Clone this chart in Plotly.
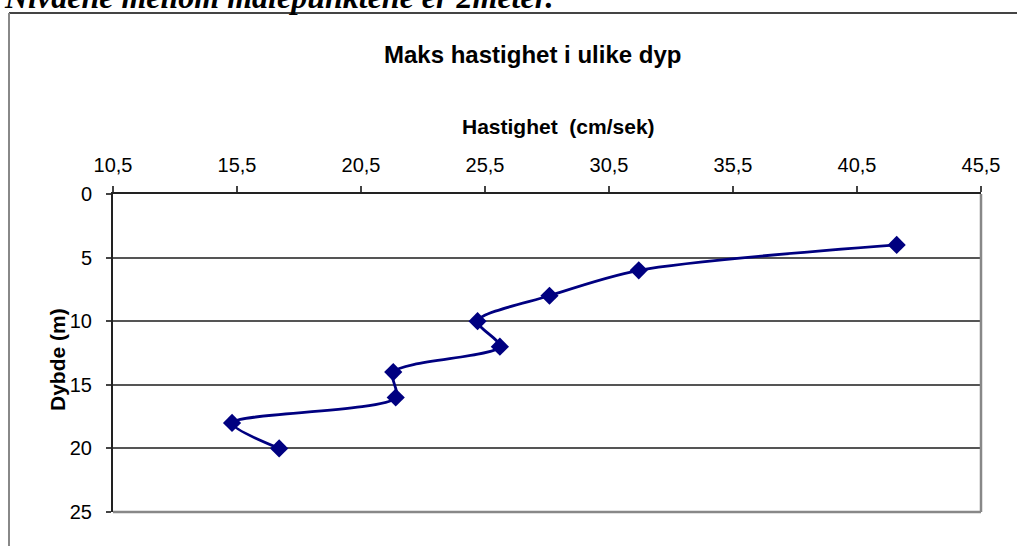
import plotly.graph_objects as go

# data
dybde = [4, 6, 8, 10, 12, 14, 16, 18, 20]
hastighet = [42.1, 31.7, 28.1, 25.2, 26.1, 21.8, 21.9, 15.3, 17.2]
x_ticks = [10.5, 15.5, 20.5, 25.5, 30.5, 35.5, 40.5, 45.5]
y_ticks = [0, 5, 10, 15, 20, 25]

tittel = "Maks hastighet i ulike dyp"
x_tittel = "Hastighet  (cm/sek)"
y_tittel = "Dybde (m)"
topptekst = "Nivåene mellom målepunktene er 2meter."

W, H = 1017, 546
L, R, T, B = 113, 36, 194, 34
PW, PH = W - L - R, H - T - B


def px(x):
    return (x - L) / PW


def py(y):
    return 1 - (y - T) / PH


fig = go.Figure()
fig.add_trace(go.Scatter(
    x=hastighet, y=dybde,
    mode="lines+markers",
    line=dict(color="#000080", width=2.8, shape="spline", smoothing=0.8),
    marker=dict(symbol="diamond", size=14, color="#000080"),
    showlegend=False,
))

sans = "Liberation Sans, Arial, sans-serif"

fig.update_layout(
    width=W, height=H,
    margin=dict(l=L, r=R, t=T, b=B),
    paper_bgcolor="white", plot_bgcolor="white",
    separators=",.",
    font=dict(family=sans, color="black", size=20),
    xaxis=dict(
        side="top", range=[x_ticks[0], x_ticks[-1]],
        tickvals=x_ticks, tickformat=".1f",
        showgrid=False, zeroline=False,
        showline=True, linecolor="#222", linewidth=2,
        ticks="outside", ticklen=6, tickwidth=1.5, tickcolor="#444",
        ticklabelstandoff=6,
    ),
    yaxis=dict(
        range=[y_ticks[-1], y_ticks[0]], tickvals=y_ticks,
        showgrid=True, gridcolor="#555", gridwidth=1.5,
        zeroline=False,
        showline=True, linecolor="#222", linewidth=2,
        ticks="outside", ticklen=5, tickwidth=1.5, tickcolor="#444",
        ticklabelstandoff=10,
    ),
    shapes=[
        # plot area border right/bottom
        dict(type="line", xref="paper", yref="paper", x0=1, x1=1, y0=0, y1=1,
             line=dict(color="#888", width=2.5)),
        dict(type="line", xref="paper", yref="paper", x0=0, x1=1, y0=0, y1=0,
             line=dict(color="#888", width=2.5)),
        # outer chart frame
        dict(type="line", xref="paper", yref="paper", x0=px(9), x1=px(1030),
             y0=py(13), y1=py(13), line=dict(color="#444", width=2)),
        dict(type="line", xref="paper", yref="paper", x0=px(9), x1=px(9),
             y0=py(13), y1=py(560), line=dict(color="#888", width=2)),
    ],
    annotations=[
        dict(text=f"<b>{tittel}</b>", xref="paper", yref="paper",
             x=px(532), y=py(54), xanchor="center", yanchor="middle",
             showarrow=False, font=dict(size=24)),
        dict(text=f"<b>{x_tittel}</b>", xref="paper", yref="paper",
             x=px(558), y=py(127), xanchor="center", yanchor="middle",
             showarrow=False, font=dict(size=21)),
        dict(text=f"<b>{y_tittel}</b>", xref="paper", yref="paper",
             x=px(57), y=py(360), xanchor="center", yanchor="middle",
             showarrow=False, textangle=-90, font=dict(size=21)),
        dict(text=f"<b><i>{topptekst}</i></b>", xref="paper", yref="paper",
             x=px(2), y=py(17), xanchor="left", yanchor="bottom",
             showarrow=False,
             font=dict(size=32, family="Liberation Serif, Times New Roman, serif")),
    ],
)

# page body has an 8px default margin; drop it so the figure sits at the corner
fig.write_html("out.html", config={"displayModeBar": False},
               post_script="document.body.style.margin='0px';")
